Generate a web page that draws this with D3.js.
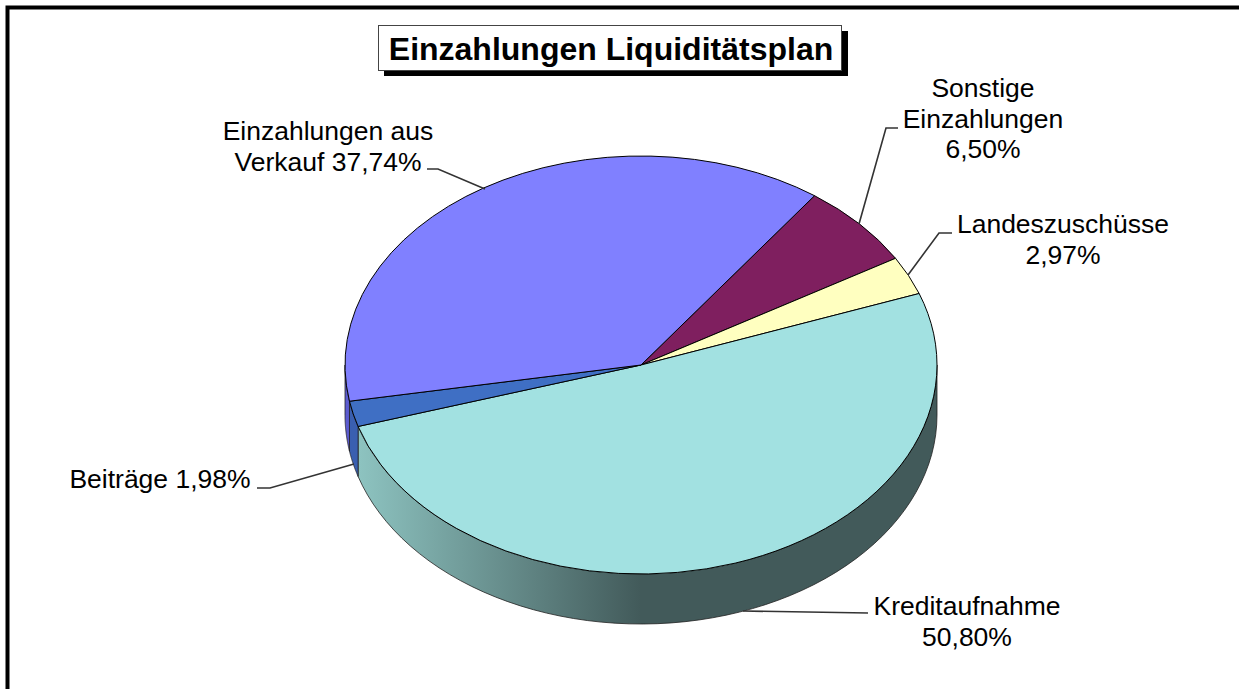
<!DOCTYPE html>
<html><head><meta charset="utf-8">
<script src="https://cdn.jsdelivr.net/npm/d3@7"></script>
<style>html,body{margin:0;padding:0;background:#fff;overflow:hidden}svg{display:block}text{font-family:"Liberation Sans",Arial,sans-serif;fill:#000}</style>
</head><body><svg id="c" width="1239" height="689"></svg>
<script>
const title = "Einzahlungen Liquiditätsplan";
const categories = ["Sonstige Einzahlungen","Landeszuschüsse","Kreditaufnahme","Beiträge","Einzahlungen aus Verkauf"];
const values = [6.50,2.97,50.80,1.98,37.74];
const topColors = ["#7F1F5F","#FFFFC0","#A2E1E1","#3F6FC4","#8080FF"];
const wallColors = ["#4A1238","#99997A","#425A5A","#3A5FB0","#5C5CD0"];
const labelLines = [["Sonstige","Einzahlungen","6,50%"],["Landeszuschüsse","2,97%"],["Kreditaufnahme","50,80%"],["Beiträge 1,98%"],["Einzahlungen aus","Verkauf 37,74%"]];
const labelAnchors = [[983,97],[1063,233],[967,615],[160,488],[328,140]];
const leaders = [[[859,224],[886,128],[898,128]],[[908,275],[939,233],[952,233]],[[743,611],[868,613]],[[257,488],[270,488],[354,464]],[[427,169],[438,169],[485,189]]];

const cx=641, cy=365, rx=296, ry=209, depth=50, lineH=30.5, fontSize=26.5;
const rad=d=>d*Math.PI/180;
const svg=d3.select("#c");
const defs=svg.append("defs");
const grad=defs.append("linearGradient").attr("id","wall").attr("gradientUnits","userSpaceOnUse")
  .attr("x1",cx-rx+14).attr("x2",cx).attr("y1",0).attr("y2",0);
grad.append("stop").attr("offset",0).attr("stop-color","#8DC3C0");
grad.append("stop").attr("offset",1).attr("stop-color",wallColors[2]);

// frame
svg.append("path").attr("d",d3.line()([[7.5,689],[7.5,7.5],[1239,7.5]])).attr("fill","none").attr("stroke","#000").attr("stroke-width",4);

const arcs=d3.pie().sort(null).value(d=>d).startAngle(rad(35.9)).endAngle(rad(395.9))(values);
const px=a=>cx+rx*Math.sin(a), py=a=>cy-ry*Math.cos(a);

// walls
const walls=svg.append("g");
arcs.forEach((d,i)=>{
  const a0=Math.max(d.startAngle,Math.PI/2), a1=Math.min(d.endAngle,Math.PI*1.5);
  if(a1<=a0) return;
  const as=d3.range(0,61).map(k=>a0+(a1-a0)*k/60);
  const pts=as.map(a=>[px(a),py(a)]).concat(as.slice().reverse().map(a=>[px(a),py(a)+depth]));
  walls.append("path").attr("d",d3.line()(pts)+"Z")
    .attr("fill",i===2?"url(#wall)":wallColors[i]).attr("stroke","#222").attr("stroke-width",0.8);
});

// top
const arc=d3.arc().innerRadius(0).outerRadius(rx);
svg.append("g").attr("transform",`translate(${cx},${cy}) scale(1,${ry/rx})`)
  .selectAll("path").data(arcs).join("path").attr("d",arc)
  .attr("fill",(d,i)=>topColors[i]).attr("stroke","#000").attr("stroke-width",1)
  .attr("vector-effect","non-scaling-stroke");

// leaders
svg.append("g").selectAll("path").data(leaders).join("path").attr("d",d=>d3.line()(d))
  .attr("fill","none").attr("stroke","#333").attr("stroke-width",1.6);

// labels
labelLines.forEach((ls,i)=>{
  ls.forEach((t,k)=>svg.append("text").attr("x",labelAnchors[i][0]).attr("y",labelAnchors[i][1]+k*lineH)
    .attr("text-anchor","middle").attr("font-size",fontSize).text(t));
});

// title
svg.append("rect").attr("x",384).attr("y",31).attr("width",464).attr("height",45).attr("fill","#000");
svg.append("rect").attr("x",378.5).attr("y",25.5).attr("width",463).attr("height",45).attr("fill","#fff").attr("stroke","#444").attr("stroke-width",1);
svg.append("text").attr("x",611).attr("y",60).attr("text-anchor","middle").attr("font-size",32).attr("font-weight","bold").text(title);
</script></body></html>
